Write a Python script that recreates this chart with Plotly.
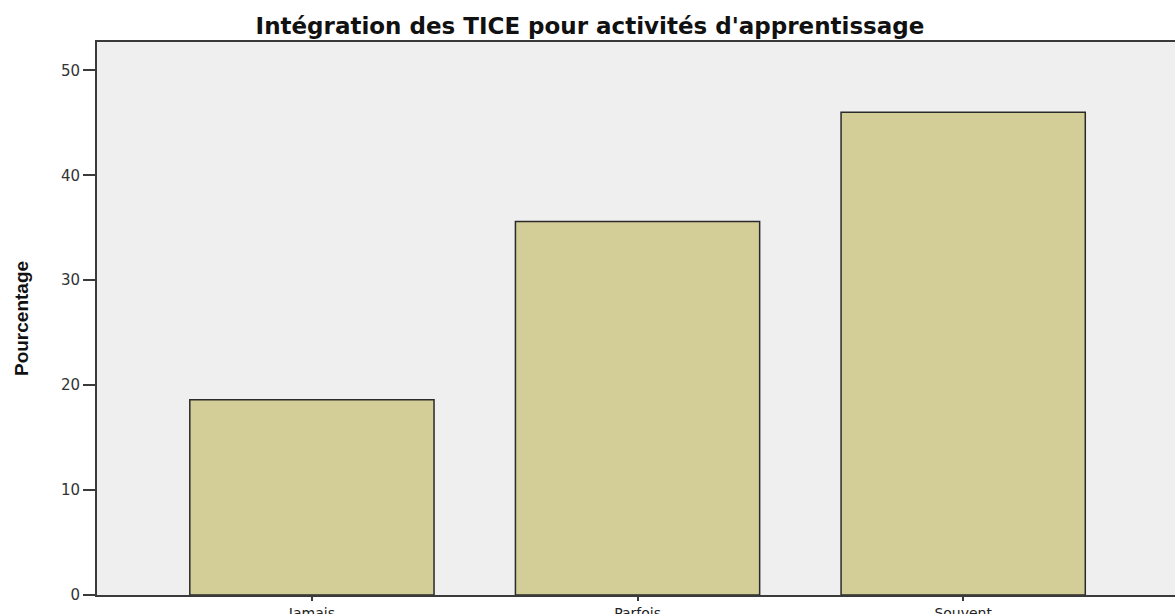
import plotly.graph_objects as go

categories = ["Jamais", "Parfois", "Souvent"]
values = [18.6, 35.6, 46.0]
y_ticks = [0, 10, 20, 30, 40, 50]

W, H = 1184, 621

fig = go.Figure()
fig.add_trace(go.Bar(
    x=categories, y=values, width=0.75,
    marker=dict(color="#D3CD98", line=dict(color="#2a2a2a", width=1.5)),
    hoverinfo="x+y",
))

fig.update_layout(
    width=W, height=H,
    margin=dict(l=97, r=0, t=42, b=23),
    paper_bgcolor="white",
    plot_bgcolor="#EFEFEF",
    showlegend=False,
    title=dict(
        text="<b>Intégration des TICE pour activités d'apprentissage</b>",
        x=590 / W, xanchor="center", xref="container",
        y=1 - 25.5 / H, yref="container", yanchor="middle",
        font=dict(family="DejaVu Sans, Verdana, sans-serif", size=23, color="#111"),
    ),
    bargap=0.25,
)
fig.update_xaxes(
    range=[-0.660, 2.672],
    showline=True, linecolor="#3a3a3a", linewidth=2, mirror=True,
    ticks="outside", ticklen=4, tickcolor="#3a3a3a", tickwidth=1.5,
    tickfont=dict(family="DejaVu Sans, Verdana, sans-serif", size=14, color="#222"),
    showgrid=False,
)
fig.update_yaxes(
    range=[0, 52.7],
    tickvals=y_ticks,
    showline=True, linecolor="#3a3a3a", linewidth=2, mirror=True,
    ticks="outside", ticklen=12, tickcolor="#3a3a3a", tickwidth=1.5,
    tickfont=dict(family="DejaVu Sans, Verdana, sans-serif", size=15, color="#333"),
    showgrid=False, zeroline=False,
    title=dict(text="<b>Pourcentage</b>", standoff=27,
               font=dict(family="Liberation Sans Narrow, Liberation Sans, Arial, sans-serif", size=19, color="#111")),
)

fig.write_html(
    "out.html",
    config={"displayModeBar": False},
    post_script="document.body.style.margin='0';document.body.style.overflow='hidden';",
)
